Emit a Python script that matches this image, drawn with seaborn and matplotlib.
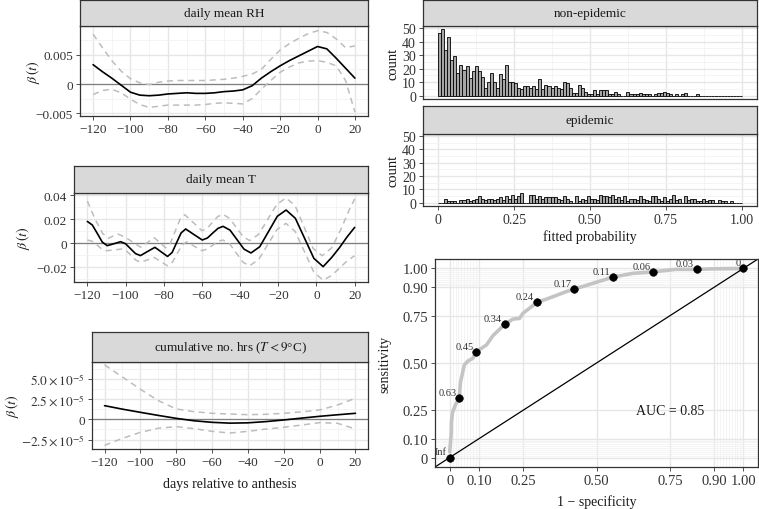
import numpy as np
import pandas as pd
import seaborn as sns
import matplotlib.pyplot as plt

# ---- data ----
days5 = list(range(-120, 21, 5))
rh_beta = [0.0033, 0.0021, 0.0010, -0.0002, -0.0014, -0.0019, -0.0020, -0.0019, -0.0017, -0.0016,
           -0.0015, -0.0016, -0.0016, -0.0015, -0.0013, -0.0012, -0.0010, -0.0003, 0.0010, 0.0021,
           0.0031, 0.0040, 0.0048, 0.0056, 0.0064, 0.0060, 0.0044, 0.0027, 0.0010]
rh_upper = [0.0085, 0.0062, 0.0040, 0.0022, 0.0009, 0.0002, -0.0001, 0.0003, 0.0005, 0.0006,
            0.0006, 0.0006, 0.0006, 0.0007, 0.0008, 0.0010, 0.0013, 0.0017, 0.0025, 0.0042,
            0.0058, 0.0069, 0.0078, 0.0086, 0.0091, 0.0088, 0.0077, 0.0062, 0.0065]
rh_lower = [-0.0018, -0.0011, -0.0009, -0.0015, -0.0026, -0.0035, -0.0040, -0.0038, -0.0036, -0.0036,
            -0.0036, -0.0036, -0.0035, -0.0033, -0.0032, -0.0033, -0.0034, -0.0025, -0.0009, 0.0006,
            0.0020, 0.0029, 0.0036, 0.0039, 0.0040, 0.0037, 0.0031, 0.0006, -0.0048]

t_days = [-120, -117.4, -114.8, -112.2, -109.6, -106.1, -102.6, -100, -97.4, -94.8, -92.2, -88.4,
          -84.6, -81.3, -78, -75.6, -73.25, -70.9, -68.5, -64.2, -59.8, -57.1, -54.4, -51.6, -48.9,
          -45.25, -41.6, -37.95, -34.3, -29.7, -25.1, -20.5, -15.9, -11.05, -6.2, -1.35, 3.5, 8, 12,
          16, 20]
t_beta = [0.018, 0.015, 0.008, 0.0008, -0.0022, -0.0006, 0.0011, -0.0006, -0.0047, -0.0088, -0.0105,
          -0.0070, -0.0036, -0.0074, -0.0112, -0.0079, 0.0003, 0.0084, 0.0117, 0.0071, 0.0025, 0.0042,
          0.0082, 0.0122, 0.0139, 0.0107, 0.0028, -0.0051, -0.0083, -0.0031, 0.0096, 0.0223, 0.0275,
          0.0206, 0.0039, -0.0128, -0.0197, -0.012, -0.004, 0.005, 0.013]
t_up_days = [-120, -116, -112, -109, -106.5, -104, -100, -96, -92, -88.5, -85, -82, -79, -76.5, -74,
             -71.5, -69, -64.5, -60, -57.25, -54.5, -51.75, -49, -45.5, -42, -38.5, -35, -30.25,
             -25.5, -20.75, -16, -11.25, -6.5, -1.75, 3, 8, 13, 17, 20]
t_upper = [0.035, 0.02, 0.008, 0.004, 0.0058, 0.0075, 0.0047, 0.0005, -0.0035, 0.0005, 0.0045, 0.0003,
           -0.004, 0.0, 0.0098, 0.0196, 0.0236, 0.017, 0.0103, 0.0123, 0.0172, 0.022, 0.024, 0.0205,
           0.013, 0.0055, 0.002, 0.0073, 0.0198, 0.0322, 0.0375, 0.0314, 0.0135, -0.0045, -0.0106,
           -0.004, 0.012, 0.027, 0.0367]
t_lo_days = [-120, -117.5, -115, -112.5, -110, -106, -102, -99.5, -97, -94.5, -92, -88.5, -85, -81.5,
             -78, -75.5, -73, -70.5, -68, -64, -60, -57.25, -54.5, -51.75, -49, -45.5, -42, -38.5,
             -35, -30.25, -25.5, -20.75, -16, -11.15, -6.25, -1.4, 3.5, 8, 12, 16, 20]
t_lower = [0.0025, 0.0015, -0.0015, -0.005, -0.0064, -0.0058, -0.005, -0.0066, -0.0105, -0.0144,
           -0.016, -0.014, -0.012, -0.0155, -0.019, -0.0161, -0.009, -0.0019, 0.001, -0.0027, -0.0064,
           -0.0051, -0.002, 0.0012, 0.0025, -0.0006, -0.0083, -0.016, -0.019, -0.0137, -0.0013,
           0.0111, 0.0164, 0.0096, -0.0073, -0.0242, -0.031, -0.027, -0.021, -0.015, -0.0106]

days10 = list(range(-120, 21, 10))
hrs_beta = [1.68e-5, 1.25e-5, 0.86e-5, 0.48e-5, 0.12e-5, -0.18e-5, -0.37e-5, -0.47e-5, -0.43e-5,
            -0.28e-5, -0.08e-5, 0.15e-5, 0.37e-5, 0.56e-5, 0.74e-5]
hrs_upper = [6.7e-5, 5.2e-5, 3.7e-5, 2.3e-5, 1.27e-5, 0.94e-5, 0.74e-5, 0.65e-5, 0.57e-5, 0.62e-5,
             0.74e-5, 0.92e-5, 1.15e-5, 1.76e-5, 2.6e-5]
hrs_lower = [-3.2e-5, -2.34e-5, -1.6e-5, -1.1e-5, -0.9e-5, -1.15e-5, -1.48e-5, -1.68e-5, -1.48e-5,
             -1.2e-5, -0.98e-5, -0.7e-5, -0.41e-5, -0.49e-5, -1.19e-5]

bin_edges = [i / 100 for i in range(101)]
non_epidemic = [46, 49, 34, 43, 26, 29, 17, 23, 19, 22, 13, 18, 22, 18, 14, 6, 10, 17, 10, 6,
                16, 12, 23, 10, 10, 9, 6, 5, 7, 7, 6, 7, 5, 12, 5, 8, 7, 6, 7, 6,
                5, 10, 9, 6, 2, 2, 8, 6, 3, 1, 1, 4, 1, 4, 4, 4, 1, 1, 3, 1,
                0, 0, 3, 1, 1, 1, 2, 1, 1, 1, 0, 1, 2, 2, 3, 2, 1, 0, 1, 0,
                1, 2, 0, 0, 0, 1, 0, 0, 0, 0, 0, 0, 0, 0, 0, 0, 0, 0, 0, 0]
epidemic = [0, 0, 3, 1, 1, 1, 0, 2, 2, 3, 1, 2, 3, 5, 3, 2, 3, 3, 2, 3,
            4, 2, 5, 3, 6, 3, 5, 7, 0, 0, 6, 6, 3, 5, 3, 4, 4, 4, 4, 3,
            2, 5, 3, 1, 0, 5, 1, 3, 2, 5, 3, 3, 2, 6, 5, 5, 4, 6, 3, 4,
            2, 5, 1, 3, 3, 2, 5, 3, 2, 1, 5, 5, 3, 1, 4, 1, 3, 6, 2, 3,
            0, 5, 2, 3, 3, 1, 1, 3, 1, 2, 2, 0, 2, 1, 1, 0, 1, 0, 0, 0]

roc_fpr = [0, 0.0, 0.005, 0.006, 0.01, 0.02, 0.032, 0.037, 0.05, 0.062, 0.079, 0.091, 0.125, 0.147,
           0.187, 0.215, 0.238, 0.249, 0.297, 0.351, 0.396, 0.425, 0.487, 0.555, 0.623, 0.693, 0.77,
           0.841, 0.895, 1.0]
roc_tpr = [0, 0.06, 0.12, 0.19, 0.24, 0.28, 0.313, 0.40, 0.49, 0.51, 0.525, 0.56, 0.595, 0.644,
           0.704, 0.732, 0.736, 0.762, 0.82, 0.85, 0.877, 0.891, 0.921, 0.954, 0.974, 0.982, 0.995,
           0.995, 0.998, 1.0]
cut_labels = ["Inf", "0.63", "0.45", "0.34", "0.24", "0.17", "0.11", "0.06", "0.03", "0"]
cut_fpr = [0, 0.032, 0.091, 0.187, 0.297, 0.425, 0.555, 0.693, 0.841, 1.0]
cut_tpr = [0, 0.313, 0.56, 0.704, 0.82, 0.891, 0.954, 0.982, 0.995, 1.0]

# ---- styling ----
sns.set_theme(style="white")
plt.rcParams['font.family'] = ['serif']
plt.rcParams['font.serif'] = ['Liberation Serif', 'DejaVu Serif']
plt.rcParams['mathtext.fontset'] = 'stix'
plt.rcParams['lines.dashed_pattern'] = [4, 3]

W, H = 759, 510
fig = plt.figure(figsize=(W / 100, H / 100), dpi=100)
TXT = '#1A1A1A'


def px_axes(l, t, r, b):
    return fig.add_axes([l / W, 1 - b / H, (r - l) / W, (b - t) / H])


def add_strip(l, t, r, b, label):
    s = px_axes(l, t, r, b)
    s.set_facecolor('#D9D9D9')
    s.set_xticks([]); s.set_yticks([])
    for sp in s.spines.values():
        sp.set_color('#333333'); sp.set_linewidth(0.9)
    s.text(0.5, 0.5, label, ha='center', va='center', fontsize=9.5, color=TXT, transform=s.transAxes)


def style_panel(ax, xmaj, xmin, ymaj, ymin, xlabels=None, ylabels=None, size=9.5):
    ax.set_xticks(xmaj); ax.set_xticks(xmin, minor=True)
    ax.set_yticks(ymaj); ax.set_yticks(ymin, minor=True)
    if xlabels is not None:
        ax.set_xticklabels(xlabels)
    if ylabels is not None:
        ax.set_yticklabels(ylabels)
    ax.grid(which='major', color='#E6E6E6', lw=1.0)
    ax.grid(which='minor', color='#F2F2F2', lw=0.6)
    ax.set_axisbelow(True)
    ax.set_facecolor('white')
    for sp in ax.spines.values():
        sp.set_color('#333333'); sp.set_linewidth(0.9)
    ax.tick_params(which='major', length=3, width=0.6, color='#333333', labelsize=size,
                   labelcolor='#333333', pad=2, left=True, bottom=True)
    ax.tick_params(which='minor', length=0)


xmaj = list(range(-120, 21, 20))
xmin = list(range(-110, 21, 20))
xlabs = [str(v).replace('-', '\u2212') for v in xmaj]


def beta_panel(rect, strip_t, label, up_x, up, lo_x, lo, bx, b, ylim, ymaj, ymin, ylabs, ylab_x):
    l, t, r, bt = rect
    ax = px_axes(l, t, r, bt)
    add_strip(l, strip_t, r, t, label)
    ax.axhline(0, color='#7F7F7F', lw=0.9, zorder=1)
    sns.lineplot(x=up_x, y=up, color='#BDBDBD', lw=1.1, ls='--', ax=ax)
    sns.lineplot(x=lo_x, y=lo, color='#BDBDBD', lw=1.1, ls='--', ax=ax)
    sns.lineplot(x=bx, y=b, color='black', lw=1.2, ax=ax)
    ax.set_xlim(-127, 27)
    ax.set_ylim(*ylim)
    style_panel(ax, xmaj, xmin, ymaj, ymin, xlabs, ylabs)
    ax.set_ylabel(r'$\beta\,(t)$', fontsize=10, color=TXT)
    ax.yaxis.set_label_coords((ylab_x - l) / (r - l), 0.5)
    ax.yaxis.label.set_va('center')
    return ax


beta_panel((80, 27, 368, 117), 1, 'daily mean RH', days5, rh_upper, days5, rh_lower, days5, rh_beta,
           (-0.00546, 0.0099), [-0.005, 0, 0.005], [-0.0025, 0.0025, 0.0075],
           ['\u22120.005', '0', '0.005'], 33)

beta_panel((74, 194, 368, 283), 167, 'daily mean T', t_up_days, t_upper, t_lo_days, t_lower, t_days, t_beta,
           (-0.0325, 0.0417), [-0.02, 0, 0.02, 0.04], [-0.03, -0.01, 0.01, 0.03],
           ['\u22120.02', '0', '0.02', '0.04'], 23)

ax3 = beta_panel((92, 363, 368, 450), 333, r'cumulative no. hrs ($T<9$°C)', days10, hrs_upper, days10,
                 hrs_lower, days10, hrs_beta, (-3.65e-5, 7.05e-5), [-2.5e-5, 0, 2.5e-5, 5e-5],
                 [-1.25e-5, 1.25e-5, 3.75e-5, 6.25e-5],
                 [r'$-2.5\times10^{-5}$', '0', r'$2.5\times10^{-5}$', r'$5.0\times10^{-5}$'], 12)
ax3.set_xlabel('days relative to anthesis', fontsize=10, color=TXT)
ax3.xaxis.set_label_coords(0.5, (450 - 485) / 87)
ax3.xaxis.label.set_va('center')

# ---- histograms ----
centers = [(bin_edges[i] + bin_edges[i + 1]) / 2 for i in range(len(bin_edges) - 1)]
hist_df = pd.DataFrame({
    'p': centers * 2,
    'n': non_epidemic + epidemic,
    'status': ['non-epidemic'] * len(centers) + ['epidemic'] * len(centers),
})
for status, (t, b, st) in {'non-epidemic': (27, 100, 1), 'epidemic': (135, 207, 107)}.items():
    ax = px_axes(423, t, 757, b)
    add_strip(423, st, 757, t, status)
    sub = hist_df[hist_df['status'] == status]
    sns.histplot(data=sub, x='p', weights='n', bins=bin_edges, color='#A6A6A6', edgecolor='black',
                 linewidth=0.6, alpha=1, ax=ax)
    ax.set_xlim(-0.05, 1.05)
    ax.set_ylim(-2.45, 51.45)
    style_panel(ax, [0, 0.25, 0.5, 0.75, 1.0], [0.125, 0.375, 0.625, 0.875],
                [0, 10, 20, 30, 40, 50], [5, 15, 25, 35, 45],
                ['0', '0.25', '0.50', '0.75', '1.00'], None, size=10)
    ax.set_ylabel('count', fontsize=10.5, color=TXT)
    ax.yaxis.set_label_coords((393 - 423) / 334, 0.5)
    ax.yaxis.label.set_va('center')
    if status == 'epidemic':
        ax.set_xlabel('fitted probability', fontsize=10, color=TXT)
        ax.xaxis.set_label_coords(0.5, (207 - 237) / 72)
        ax.xaxis.label.set_va('center')
    else:
        ax.set_xlabel('')
        ax.tick_params(axis='x', labelbottom=False, length=0)

# ---- ROC ----
ax = px_axes(435, 260, 758, 468)
sns.lineplot(x=roc_fpr, y=roc_tpr, sort=False, color='#C4C4C4', lw=2.6, ax=ax)
ax.axline((0, 0), (1, 1), color='black', lw=0.9)
sns.scatterplot(x=cut_fpr, y=cut_tpr, color='black', s=30, edgecolor='black', ax=ax, zorder=5)
for lab, fx, ty in zip(cut_labels, cut_fpr, cut_tpr):
    ax.annotate(lab, (fx, ty), xytext=(-2, 4), textcoords='offset points', ha='right', va='center',
                fontsize=7.5, color='#333333')
ax.text(0.75, 0.25, 'AUC = 0.85', ha='center', va='center', fontsize=10, color=TXT)
ax.set_xlim(-0.05, 1.05)
ax.set_ylim(-0.05, 1.05)
roc_breaks = [0, 0.1, 0.25, 0.5, 0.75, 0.9, 1.0]
roc_minor = [i / 100 for i in range(1, 10)] + [i / 100 for i in range(91, 100)]
roc_labs = ['0', '0.10', '0.25', '0.50', '0.75', '0.90', '1.00']
style_panel(ax, roc_breaks, roc_minor, roc_breaks, roc_minor, roc_labs, roc_labs, size=10.5)
ax.set_xlabel('1 \u2212 specificity', fontsize=10, color=TXT)
ax.xaxis.set_label_coords(0.5, (468 - 502) / 208)
ax.xaxis.label.set_va('center')
ax.set_ylabel('sensitivity', fontsize=10, color=TXT)
ax.yaxis.set_label_coords((385 - 435) / 323, 0.5)
ax.yaxis.label.set_va('center')

fig.savefig('out.png', dpi=100)
